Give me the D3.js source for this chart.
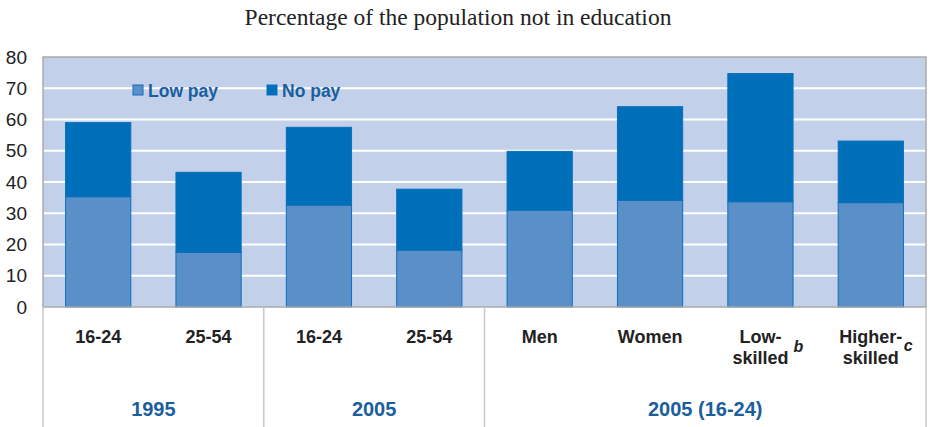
<!DOCTYPE html>
<html><head><meta charset="utf-8">
<script src="https://cdn.jsdelivr.net/npm/d3@7"></script>
<style>body{margin:0;background:#fff}svg{display:block}</style>
</head><body>
<svg id="c" width="929" height="427"></svg>
<script>
const title = "Percentage of the population not in education";
const categories = ["16-24","25-54","16-24","25-54","Men","Women","Low-skilled","Higher-skilled"];
const catLines = [["16-24"],["25-54"],["16-24"],["25-54"],["Men"],["Women"],["Low-","skilled"],["Higher-","skilled"]];
const catSup = ["","","","","","","b","c"];
const lowPay = [35.3, 17.5, 32.6, 18.2, 31.0, 34.1, 33.7, 33.4];
const noPay  = [23.7, 25.6, 24.9, 19.5, 18.8, 30.0, 41.0, 19.7];
const groups = [{label:"1995", from:0, to:1},{label:"2005", from:2, to:3},{label:"2005 (16-24)", from:4, to:7}];
const yTicks = [0,10,20,30,40,50,60,70,80];
const seriesNames = ["Low pay","No pay"];
const colors = ["#5b8fc8","#006fb9"];

const svg = d3.select("#c");
const L=43, R=926, T=57, B=307;
const x = d3.scaleBand().domain(d3.range(categories.length)).range([L,R]).paddingInner(0.4).paddingOuter(0.2);
const y = d3.scaleLinear().domain([0,80]).range([B,T]);
const SANS = "Liberation Sans, Arial, sans-serif";

svg.append("text").attr("x",458).attr("y",25).attr("text-anchor","middle")
  .attr("font-family","Liberation Serif, Times New Roman, serif").attr("font-size",23.5).attr("fill","#222").text(title);

svg.append("rect").attr("x",L).attr("y",T).attr("width",R-L).attr("height",B-T).attr("fill","#c2d0ea");
svg.append("g").selectAll("line").data(yTicks.filter(d=>d>0&&d<80)).join("line")
  .attr("x1",L).attr("x2",R).attr("y1",d=>y(d)).attr("y2",d=>y(d)).attr("stroke","#fff").attr("stroke-width",2);

// y axis labels
const ya = svg.append("g").attr("transform",`translate(${L},0)`).call(d3.axisLeft(y).tickValues(yTicks).tickSize(0).tickPadding(16));
ya.select(".domain").remove();
ya.selectAll("text").attr("font-family",SANS).attr("font-size",19).attr("fill","#222");

// bars
const stacked = d3.stack().keys([0,1]).value((d,k)=> k===0?lowPay[d]:noPay[d])(d3.range(categories.length));
stacked.forEach((s,k)=>{
  svg.append("g").selectAll("rect").data(s).join("rect")
    .attr("x",(d,i)=>x(i)+0.5).attr("width",x.bandwidth()-1)
    .attr("y",d=>y(d[1])).attr("height",d=>y(d[0])-y(d[1]))
    .attr("fill",colors[k]).attr("stroke","#0a6fbf").attr("stroke-width",1);
});

// plot border
svg.append("rect").attr("x",L).attr("y",T).attr("width",R-L).attr("height",B-T).attr("fill","none").attr("stroke","#aaa").attr("stroke-width",1.5);

// legend
const lg = svg.append("g");
[[133,0],[267,1]].forEach(([lx,k])=>{
  lg.append("rect").attr("x",lx).attr("y",85).attr("width",10).attr("height",10).attr("fill",colors[k]).attr("stroke","#0a6fbf").attr("stroke-width",1);
  lg.append("text").attr("x",lx+15).attr("y",96.5).attr("font-family",SANS).attr("font-weight","bold")
    .attr("font-size",17.5).attr("fill","#1a5e9e").text(seriesNames[k]);
});

// separators
const seps = [L, (x(groups[0].to)+x.bandwidth()+x(groups[1].from))/2, (x(groups[1].to)+x.bandwidth()+x(groups[2].from))/2, R];
svg.append("g").selectAll("line").data(seps).join("line")
  .attr("x1",d=>d).attr("x2",d=>d).attr("y1",B).attr("y2",427).attr("stroke","#c8c8c8").attr("stroke-width",1.5);

// category labels
const cg = svg.append("g").attr("font-family",SANS).attr("font-weight","bold").attr("font-size",18).attr("fill","#222");
catLines.forEach((lines,i)=>{
  const cx = x(i)+x.bandwidth()/2;
  lines.forEach((t,j)=>{
    cg.append("text").attr("x",cx).attr("y",342.5+j*21).attr("text-anchor","middle").text(t);
  });
  if(catSup[i]){
    cg.append("text").attr("x",cx+33).attr("y",i===6?352:351).attr("font-style","italic").attr("font-size",16).text(catSup[i]);
  }
});

// group labels
svg.append("g").selectAll("text").data(groups).join("text")
  .attr("x",g=>(x(g.from)+x(g.to)+x.bandwidth())/2).attr("y",416).attr("text-anchor","middle")
  .attr("font-family",SANS).attr("font-weight","bold").attr("font-size",20).attr("fill","#1a5e9e")
  .text(g=>g.label);
</script>
</body></html>
